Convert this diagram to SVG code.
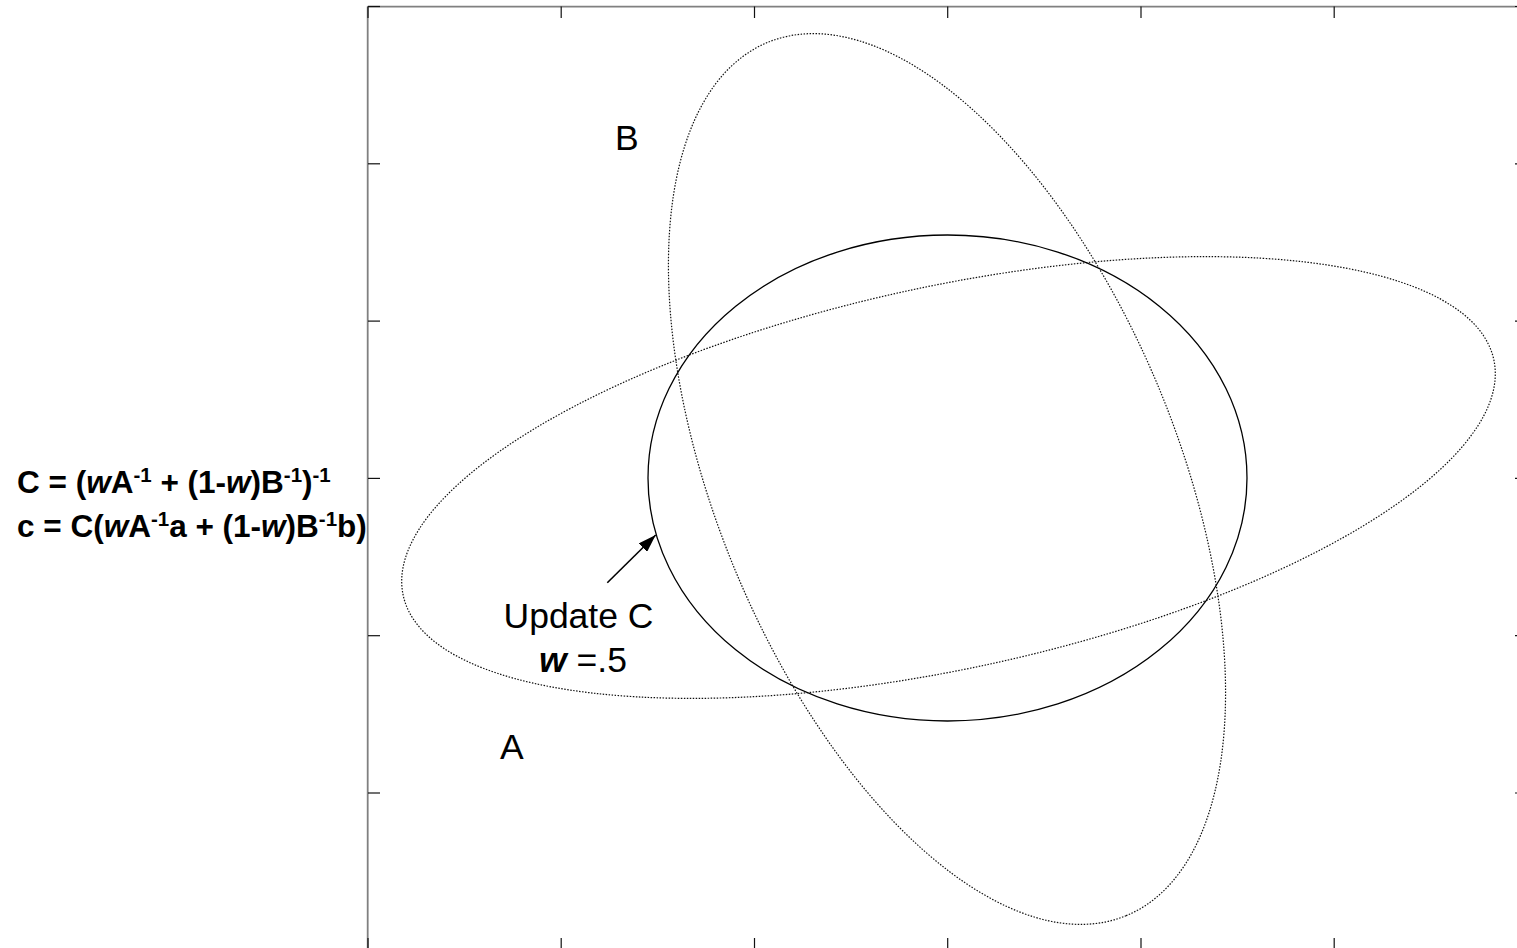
<svg xmlns="http://www.w3.org/2000/svg" width="1517" height="948" viewBox="0 0 1517 948">
<style>
.frame{stroke:#808080;stroke-width:1.8;fill:none}
.tick{stroke:#111;stroke-width:1.2}
.dotted{fill:none;stroke:#111;stroke-width:1.2;stroke-dasharray:1.5 1.5}
.solid{fill:none;stroke:#000;stroke-width:1.3}
.lbl{font-family:"Liberation Sans",Arial,sans-serif;font-size:35.5px;fill:#000}
.eq{font-family:"Liberation Sans",Arial,sans-serif;font-size:31.5px;font-weight:bold;fill:#000}
.sup{font-size:20.5px}
</style>
<defs>
<marker id="ah2" viewBox="0 0 18 12" refX="18" refY="6" markerWidth="18" markerHeight="12" markerUnits="userSpaceOnUse" orient="auto">
<path d="M0,0 L18,6 L0,12 z" fill="#000"/>
</marker>
</defs>
<rect width="1517" height="948" fill="#fff"/>
<g id="axes">
<line class="frame" x1="367.7" y1="6.6" x2="1530" y2="6.6"/>
<line class="frame" x1="367.7" y1="6.6" x2="367.7" y2="950"/>
<g class="tick">
<line x1="368" y1="6.5" x2="368" y2="18"/>
<line x1="561.2" y1="6.5" x2="561.2" y2="18"/>
<line x1="754.5" y1="6.5" x2="754.5" y2="18"/>
<line x1="947.7" y1="6.5" x2="947.7" y2="18"/>
<line x1="1141" y1="6.5" x2="1141" y2="18"/>
<line x1="1334.2" y1="6.5" x2="1334.2" y2="18"/>
<line x1="368" y1="938" x2="368" y2="950"/>
<line x1="561.2" y1="938" x2="561.2" y2="950"/>
<line x1="754.5" y1="938" x2="754.5" y2="950"/>
<line x1="947.7" y1="938" x2="947.7" y2="950"/>
<line x1="1141" y1="938" x2="1141" y2="950"/>
<line x1="1334.2" y1="938" x2="1334.2" y2="950"/>
<line x1="368" y1="6.5" x2="380" y2="6.5"/>
<line x1="368" y1="163.8" x2="380" y2="163.8"/>
<line x1="368" y1="321.1" x2="380" y2="321.1"/>
<line x1="368" y1="478.4" x2="380" y2="478.4"/>
<line x1="368" y1="635.7" x2="380" y2="635.7"/>
<line x1="368" y1="793" x2="380" y2="793"/>
<line x1="1515" y1="6.5" x2="1528" y2="6.5"/>
<line x1="1515" y1="163.8" x2="1528" y2="163.8"/>
<line x1="1515" y1="321.1" x2="1528" y2="321.1"/>
<line x1="1515" y1="478.4" x2="1528" y2="478.4"/>
<line x1="1515" y1="635.7" x2="1528" y2="635.7"/>
<line x1="1515" y1="793" x2="1528" y2="793"/>
</g>
</g>
<g id="ellipseA">
<ellipse class="dotted" cx="948.5" cy="477.5" rx="557.9" ry="191.1" transform="rotate(-12.2 948.5 477.5)"/>
<text class="lbl" x="500" y="759">A</text>
</g>
<g id="ellipseB">
<ellipse class="dotted" cx="947" cy="479" rx="472" ry="230.6" transform="rotate(67.7 947 479)"/>
<text class="lbl" x="615" y="150">B</text>
</g>
<g id="ellipseC">
<ellipse class="solid" cx="947.5" cy="478" rx="299.5" ry="243"/>
</g>
<g id="updateLabel">
<text class="lbl" x="578.5" y="628" text-anchor="middle">Update C</text>
<text class="lbl" x="583" y="672" text-anchor="middle"><tspan font-weight="bold" font-style="italic">w</tspan> =.5</text>
</g>
<g id="formulas">
<text class="eq" x="17" y="493">C = (<tspan font-style="italic">w</tspan>A<tspan class="sup" dy="-11">-1</tspan><tspan dy="11"> + (1-</tspan><tspan font-style="italic">w</tspan>)B<tspan class="sup" dy="-11">-1</tspan><tspan dy="11">)</tspan><tspan class="sup" dy="-11">-1</tspan></text>
<text class="eq" x="17" y="537">c = C(<tspan font-style="italic">w</tspan>A<tspan class="sup" dy="-11">-1</tspan><tspan dy="11">a + (1-</tspan><tspan font-style="italic">w</tspan>)B<tspan class="sup" dy="-11">-1</tspan><tspan dy="11">b)</tspan></text>
</g>
<g id="connectors">
<line x1="607.3" y1="582.7" x2="655.7" y2="535" stroke="#000" stroke-width="1.6" marker-end="url(#ah2)"/>
</g>
</svg>
